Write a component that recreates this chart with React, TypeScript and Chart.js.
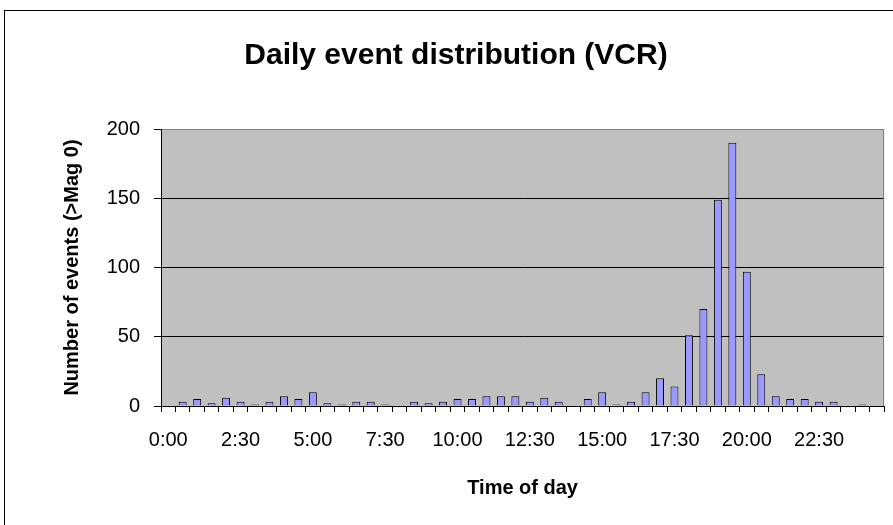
import React, { useEffect, useRef } from 'react';
import { Chart, registerables } from 'chart.js';

Chart.register(...registerables);

const chartTitle = 'Daily event distribution (VCR)';
const xAxisTitle = 'Time of day';
const yAxisTitle = 'Number of events (>Mag 0)';

const timeLabels = [
  '0:00', '0:30', '1:00', '1:30', '2:00', '2:30', '3:00', '3:30', '4:00', '4:30',
  '5:00', '5:30', '6:00', '6:30', '7:00', '7:30', '8:00', '8:30', '9:00', '9:30',
  '10:00', '10:30', '11:00', '11:30', '12:00', '12:30', '13:00', '13:30', '14:00', '14:30',
  '15:00', '15:30', '16:00', '16:30', '17:00', '17:30', '18:00', '18:30', '19:00', '19:30',
  '20:00', '20:30', '21:00', '21:30', '22:00', '22:30', '23:00', '23:30', '24:00', '24:30',
];

const eventCounts = [
  0, 3, 5, 2, 6, 3, 1, 3, 7, 5,
  10, 2, 1, 3, 3, 1, 0, 3, 2, 3,
  5, 5, 7, 7, 7, 3, 6, 3, 0, 5,
  10, 1, 3, 10, 20, 14, 51, 70, 149, 190,
  97, 23, 7, 5, 5, 3, 3, 0, 1, 0,
];

const yMin = 0;
const yMax = 200;
const yStep = 50;
const labelEvery = 5;

const FONT = "'Liberation Sans', Arial, sans-serif";

const excelFrame = {
  id: 'excelFrame',
  beforeDraw(chart: any) {
    const { ctx, chartArea: a, width, height } = chart;
    ctx.save();
    ctx.fillStyle = '#ffffff';
    ctx.fillRect(0, 0, width, height);
    ctx.strokeStyle = '#000000';
    ctx.lineWidth = 1;
    ctx.strokeRect(4.5, 10.5, width + 40, height + 40);
    ctx.fillStyle = '#C0C0C0';
    ctx.fillRect(a.left, a.top, a.right - a.left, a.bottom - a.top);
    ctx.restore();
  },
  afterDatasetsDraw(chart: any) {
    const { ctx, chartArea: a } = chart;
    ctx.save();
    ctx.strokeStyle = '#808080';
    ctx.lineWidth = 1;
    const x = Math.round(a.right) - 0.5;
    ctx.beginPath();
    ctx.moveTo(x, a.top);
    ctx.lineTo(x, a.bottom);
    ctx.stroke();
    ctx.restore();
  },
};

export default function App() {
  const canvasRef = useRef<HTMLCanvasElement | null>(null);

  useEffect(() => {
    if (!canvasRef.current) return;
    Chart.defaults.font.family = FONT;
    Chart.defaults.color = '#000000';
    const chart = new Chart(canvasRef.current, {
      type: 'bar',
      data: {
        labels: timeLabels,
        datasets: [
          {
            label: 'Events',
            data: eventCounts,
            backgroundColor: '#9999FF',
            borderColor: '#000000',
            borderWidth: 1,
            barPercentage: 0.55,
            categoryPercentage: 1.0,
          },
        ],
      },
      options: {
        responsive: false,
        animation: false,
        devicePixelRatio: 1,
        layout: { padding: { left: 20, right: 1, top: 0, bottom: 0 } },
        plugins: {
          legend: { display: false },
          tooltip: { enabled: false },
          title: {
            display: true,
            text: chartTitle,
            color: '#000000',
            font: { family: FONT, size: 30, weight: 'bold' },
            padding: { top: 38, bottom: 55 },
          },
        },
        scales: {
          x: {
            type: 'category',
            offset: true,
            afterFit(scale: any) {
              scale.height = 119;
            },
            grid: {
              display: true,
              offset: true,
              drawOnChartArea: false,
              drawTicks: true,
              tickLength: 6,
              tickColor: '#000000',
              color: '#000000',
            },
            border: { display: true, color: '#000000', width: 1 },
            ticks: {
              autoSkip: false,
              maxRotation: 0,
              minRotation: 0,
              padding: 16,
              color: '#000000',
              font: { family: FONT, size: 20 },
              callback: (_v: any, index: number) =>
                index % labelEvery === 0 ? timeLabels[index] : '',
            },
            title: {
              display: true,
              text: xAxisTitle,
              color: '#000000',
              font: { family: FONT, size: 20, weight: 'bold' },
              padding: { top: 0, bottom: 25 },
            },
          },
          y: {
            min: yMin,
            max: yMax,
            afterFit(scale: any) {
              scale.width = 141;
            },
            grid: {
              display: true,
              drawOnChartArea: true,
              drawTicks: true,
              tickLength: 7,
              tickColor: '#000000',
              lineWidth: 1,
              color: (ctx: any) =>
                ctx.tick && ctx.tick.value === yMax ? '#808080' : '#000000',
            },
            border: { display: true, color: '#000000', width: 1 },
            ticks: {
              stepSize: yStep,
              padding: 14,
              color: '#000000',
              font: { family: FONT, size: 20 },
            },
            title: {
              display: true,
              text: yAxisTitle,
              color: '#000000',
              font: { family: FONT, size: 20, weight: 'bold' },
              padding: { top: 40, bottom: 0 },
            },
          },
        },
      },
      plugins: [excelFrame],
    });
    return () => chart.destroy();
  }, []);

  return (
    <div style={{ position: 'fixed', left: 0, top: 0, width: 893, height: 525 }}>
      <canvas ref={canvasRef} width={893} height={525} style={{ display: 'block' }} />
    </div>
  );
}
